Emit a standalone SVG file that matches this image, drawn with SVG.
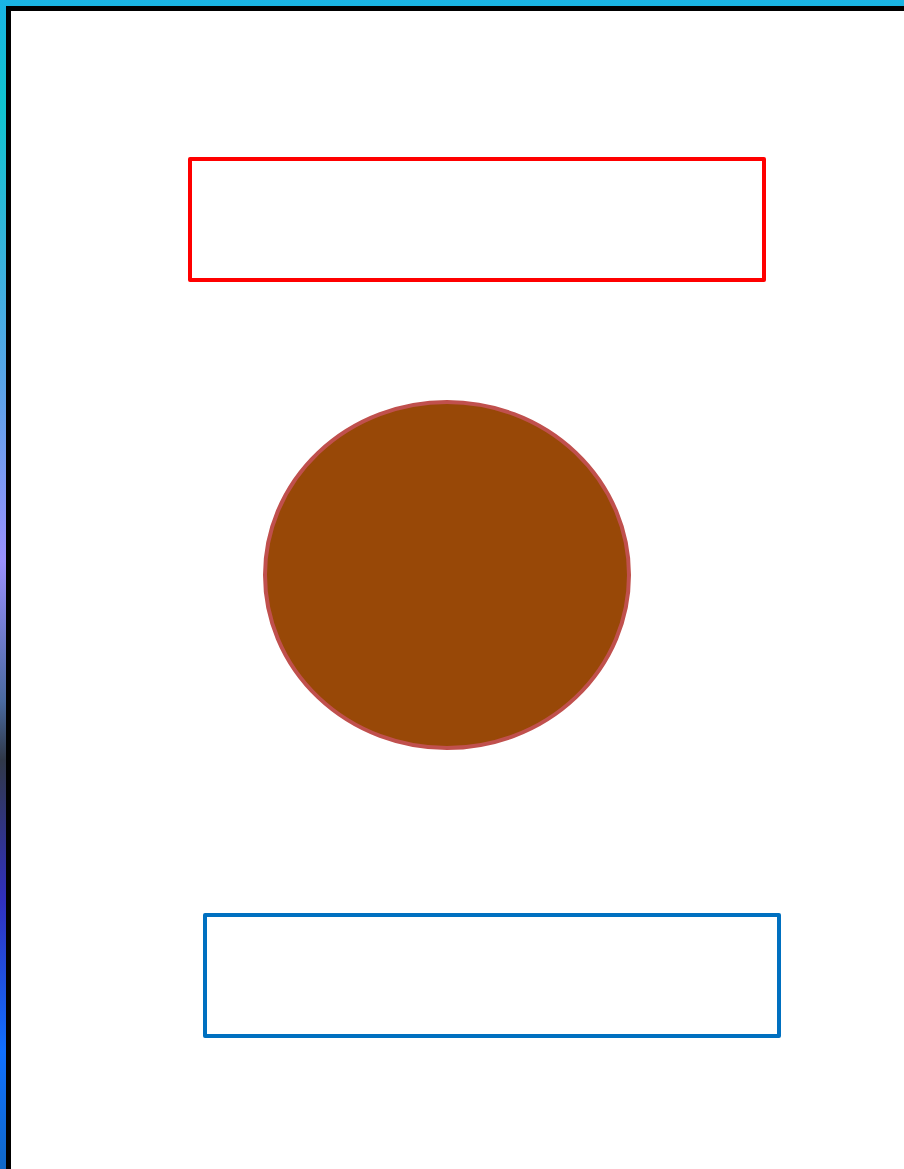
<svg xmlns="http://www.w3.org/2000/svg" width="904" height="1169" viewBox="0 0 904 1169">
<defs>
<linearGradient id="bg" x1="0" y1="0" x2="0" y2="1169" gradientUnits="userSpaceOnUse">
<stop offset="0" stop-color="#1ab4e4"/>
<stop offset="0.09" stop-color="#10c4d0"/>
<stop offset="0.33" stop-color="#5aa4e8"/>
<stop offset="0.48" stop-color="#9a90ff"/>
<stop offset="0.6" stop-color="#4a6aa0"/>
<stop offset="0.65" stop-color="#303848"/>
<stop offset="0.77" stop-color="#3030c0"/>
<stop offset="0.9" stop-color="#1070ff"/>
<stop offset="1" stop-color="#1068c8"/>
</linearGradient>
<style>
.box{fill:none;stroke-width:4;stroke-linejoin:round}
</style>
</defs>
<rect x="0" y="0" width="904" height="1169" fill="url(#bg)"/>
<rect x="8.5" y="8.5" width="910" height="1180" fill="#ffffff" stroke="#000000" stroke-width="5"/>
<g id="top-box"><rect class="box" x="190" y="159" width="574" height="121" stroke="#ff0000"/></g>
<g id="circle"><ellipse cx="447" cy="575" rx="182" ry="173" fill="#984807" stroke="#c0504d" stroke-width="4"/></g>
<g id="bottom-box"><rect class="box" x="205" y="915" width="574" height="121" stroke="#0070c0"/></g>
<g id="connectors"></g>
</svg>
